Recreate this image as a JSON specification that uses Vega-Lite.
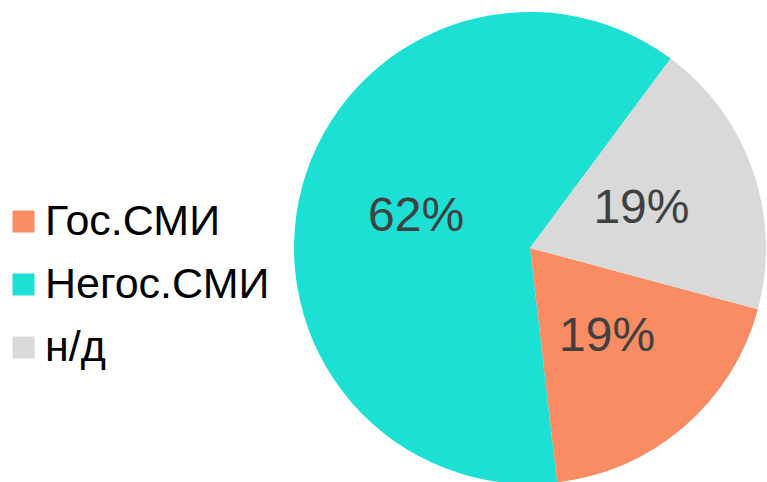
{
  "$schema": "https://vega.github.io/schema/vega-lite/v6.json",
  "width": 472,
  "height": 472,
  "autosize": {"type": "none"},
  "padding": {"left": 294, "top": 12, "right": 1, "bottom": -2},
  "background": "#ffffff",
  "config": {"view": {"stroke": null}, "font": "Liberation Sans"},
  "data": {"values": [
    {"cat": "Гос.СМИ", "share": 0.19},
    {"cat": "Негос.СМИ", "share": 0.62},
    {"cat": "н/д", "share": 0.19}
  ]},
  "encoding": {
    "theta": {"field": "share", "type": "quantitative", "stack": true, "scale": {"range": [1.833, 8.116]}}
  },
  "layer": [
    {
      "mark": {"type": "arc", "outerRadius": 236},
      "encoding": {
        "color": {
          "field": "cat", "type": "nominal",
          "scale": {"domain": ["Гос.СМИ", "Негос.СМИ", "н/д"], "range": ["#F98C62", "#1CE0D4", "#D9D9D9"]},
          "legend": {
            "title": null, "orient": "none", "legendX": -292, "legendY": 188,
            "labelFont": "Liberation Sans", "labelFontSize": 43, "labelColor": "#000000",
            "symbolType": "square", "symbolSize": 484, "symbolStrokeWidth": 0,
            "labelOffset": 0, "rowPadding": 19, "labelLimit": 400
          }
        }
      }
    },
    {
      "mark": {"type": "text", "radius": 118, "fontSize": 48, "font": "Liberation Sans"},
      "encoding": {
        "color": {
          "field": "cat", "type": "nominal",
          "scale": {"domain": ["Гос.СМИ", "Негос.СМИ", "н/д"], "range": ["#404040", "#404040", "#404040"]},
          "legend": null
        },
        "text": {"field": "share", "type": "quantitative", "format": ".0%"}
      }
    }
  ],
  "resolve": {"scale": {"color": "independent"}}
}
